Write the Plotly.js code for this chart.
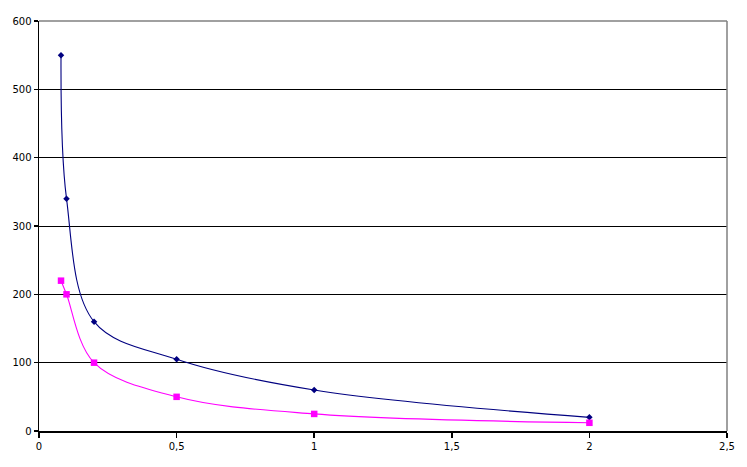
<!DOCTYPE html>
<html>
<head>
<meta charset="utf-8">
<script src="https://cdn.plot.ly/plotly-3.0.1.min.js"></script>
<style>html,body{margin:0;padding:0;background:#fff;}#chart{width:747px;height:467px;}</style>
</head>
<body>
<div id="chart"></div>
<script>
const xValues = [0.08, 0.1, 0.2, 0.5, 1, 2];
const seriesBlue = [550, 340, 160, 105, 60, 20];
const seriesPink = [220, 200, 100, 50, 25, 12];
const xTicks = [0, 0.5, 1, 1.5, 2, 2.5];
const yTicks = [0, 100, 200, 300, 400, 500, 600];

const traces = [
  {
    x: xValues, y: seriesBlue, type: 'scatter', mode: 'lines+markers',
    line: {color: '#000080', width: 1.1, shape: 'spline', smoothing: 1},
    marker: {symbol: 'diamond', size: 5, color: '#000080'},
    showlegend: false
  },
  {
    x: xValues, y: seriesPink, type: 'scatter', mode: 'lines+markers',
    line: {color: '#FF00FF', width: 1.1, shape: 'spline', smoothing: 1},
    marker: {symbol: 'square', size: 6.5, color: '#FF00FF'},
    showlegend: false
  }
];

const layout = {
  width: 747, height: 467,
  margin: {l: 39, r: 20, t: 21, b: 36, pad: 0},
  paper_bgcolor: '#ffffff', plot_bgcolor: '#ffffff',
  separators: ', ',
  font: {family: 'DejaVu Sans, Verdana, sans-serif', size: 10, color: '#000'},
  xaxis: {
    range: [0, 2.5], tickvals: xTicks, ticktext: xTicks.map(v => String(v).replace('.', ',')),
    showgrid: false, zeroline: false, showline: true, linecolor: '#000', linewidth: 1.5,
    ticks: 'outside', ticklen: 5, tickcolor: '#000', tickwidth: 1.5, fixedrange: true
  },
  yaxis: {
    range: [0, 600], tickvals: yTicks,
    showgrid: true, gridcolor: '#000', gridwidth: 1, zeroline: false,
    showline: true, linecolor: '#000', linewidth: 1.5,
    ticks: 'outside', ticklen: 4, tickcolor: '#000', tickwidth: 1.5, fixedrange: true
  },
  shapes: [
    {type: 'line', xref: 'paper', yref: 'paper', x0: 0, x1: 1, y0: 1, y1: 1, line: {color: '#808080', width: 1.5}},
    {type: 'line', xref: 'paper', yref: 'paper', x0: 1, x1: 1, y0: 0, y1: 1, line: {color: '#808080', width: 1.5}}
  ]
};

Plotly.newPlot('chart', traces, layout, {displayModeBar: false, staticPlot: true});
</script>
</body>
</html>
